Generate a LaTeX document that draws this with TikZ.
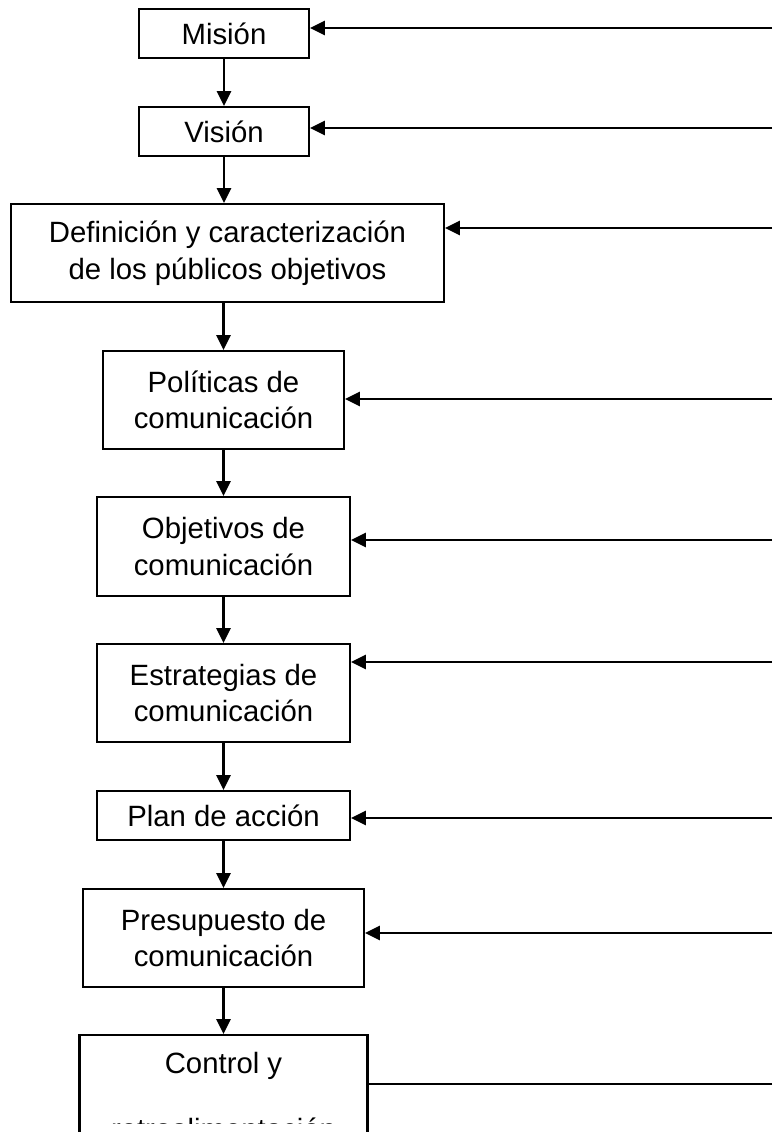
\documentclass[tikz,border=0pt]{standalone}
\usepackage{fontspec}
\setmainfont{Liberation Sans}
\usetikzlibrary{arrows.meta}
\begin{document}
\begin{tikzpicture}[x=0.75pt,y=-0.75pt,
  box/.style 2 args={draw,line width=1.65pt,minimum width=#1*0.75pt,minimum height=#2*0.75pt,inner sep=0pt,align=center,font=\fontsize{22}{27.5}\selectfont},
  txt/.style={inner sep=0pt,font=\fontsize{22}{27.5}\selectfont},
  arr/.style={line width=1.65pt,-{Triangle[length=11pt,width=10.5pt]}},
  fb/.style={line width=1.65pt}]
\path[use as bounding box] (0,0) rectangle (772,1132);
\clip (0,0) rectangle (772,1132);
\node[box={170}{49}] (mision) at (224,33.5) {Misión};
\node[box={170}{49}] (vision) at (224,131.5) {Visión};
\node[box={433}{98}] (def) at (227.5,253) {Definición y caracterización\\de los públicos objetivos};
\node[box={241}{98}] (pol) at (223.5,400) {Políticas de\\comunicación};
\node[box={253}{99}] (obj) at (223.5,546.5) {Objetivos de\\comunicación};
\node[box={253}{98}] (est) at (223.5,693) {Estrategias de\\comunicación};
\node[box={253}{49}] (plan) at (223.5,815.5) {Plan de acción};
\node[box={281}{98}] (pre) at (223.5,938) {Presupuesto de\\comunicación};
\node[box={288}{121}] (con) at (223.5,1095.5) {};
\node[txt,anchor=base] (conA) at (223.5,1073) {Control y};
\begin{scope}
\clip (0,0) rectangle (772,1123);
\node[txt,anchor=base] (conB) at (223.5,1139) {retroalimentación};
\end{scope}
\coordinate (r1) at (772,28);
\coordinate (r2) at (772,128);
\coordinate (r3) at (772,228);
\coordinate (r4) at (772,399);
\coordinate (r5) at (772,540);
\coordinate (r6) at (772,662);
\coordinate (r7) at (772,818);
\coordinate (r8) at (772,933);
\coordinate (r9) at (772,1084);
\draw[arr] (r1) -- (mision.east |- r1);
\draw[arr] (r2) -- (vision.east |- r2);
\draw[arr] (r3) -- (def.east |- r3);
\draw[arr] (r4) -- (pol.east |- r4);
\draw[arr] (r5) -- (obj.east |- r5);
\draw[arr] (r6) -- (est.east |- r6);
\draw[arr] (r7) -- (plan.east |- r7);
\draw[arr] (r8) -- (pre.east |- r8);
\draw[fb] (r9) -- (con.east |- r9);
\draw[arr] (mision.south) -- (vision.north);
\draw[arr] (vision.south) -- (vision.south |- def.north);
\draw[arr] (pol.north |- def.south) -- (pol.north);
\draw[arr] (pol.south) -- (obj.north);
\draw[arr] (obj.south) -- (est.north);
\draw[arr] (est.south) -- (plan.north);
\draw[arr] (plan.south) -- (pre.north);
\draw[arr] (pre.south) -- (con.north);
\end{tikzpicture}
\end{document}
